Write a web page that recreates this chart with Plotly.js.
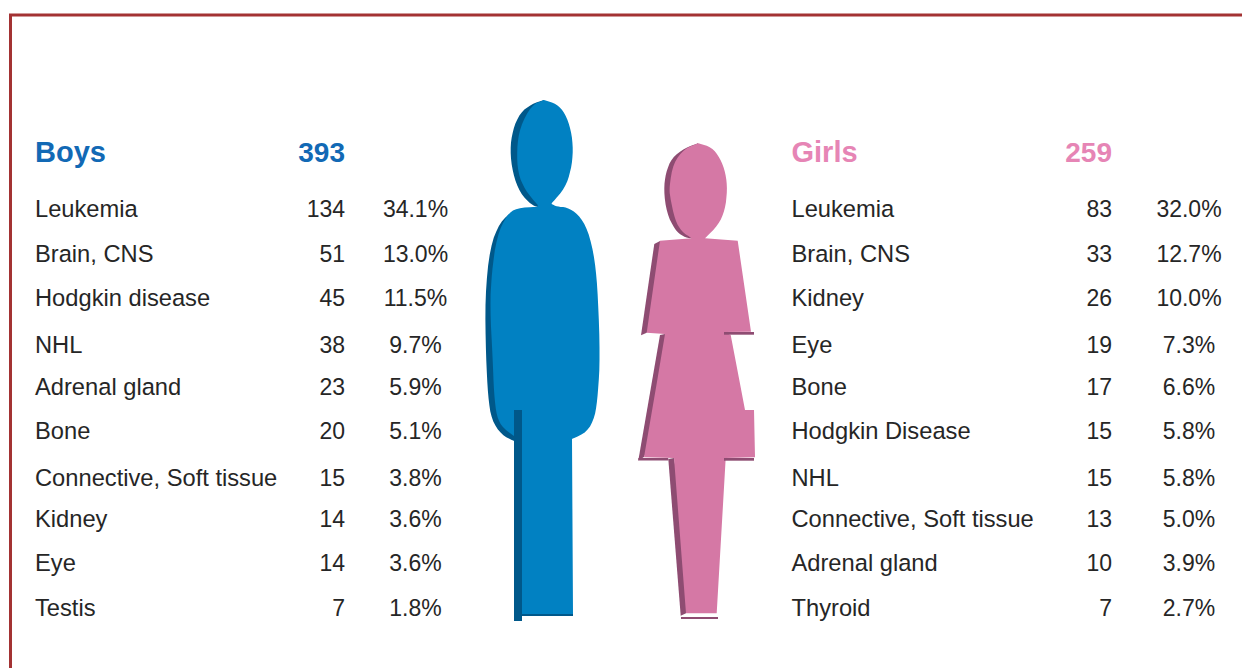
<!DOCTYPE html>
<html>
<head>
<meta charset="utf-8">
<script src="https://cdn.plot.ly/plotly-3.0.1.min.js"></script>
<style>html,body{margin:0;padding:0;background:#fff;overflow:hidden}#chart{width:1242px;height:668px}</style>
</head>
<body>
<div id="chart"></div>
<script>
// Data
const boysTitle = "Boys", boysTotal = "393";
const girlsTitle = "Girls", girlsTotal = "259";
const boysSites = ["Leukemia","Brain, CNS","Hodgkin disease","NHL","Adrenal gland","Bone","Connective, Soft tissue","Kidney","Eye","Testis"];
const boysCounts = [134,51,45,38,23,20,15,14,14,7];
const boysPct = ["34.1%","13.0%","11.5%","9.7%","5.9%","5.1%","3.8%","3.6%","3.6%","1.8%"];
const girlsSites = ["Leukemia","Brain, CNS","Kidney","Eye","Bone","Hodgkin Disease","NHL","Connective, Soft tissue","Adrenal gland","Thyroid"];
const girlsCounts = [83,33,26,19,17,15,15,13,10,7];
const girlsPct = ["32.0%","12.7%","10.0%","7.3%","6.6%","5.8%","5.8%","5.0%","3.9%","2.7%"];

// Layout of the table
const rowY = [211,256,300,347,389,433,480,521,565,610];
const headY = 155;
const FONT = "Liberation Sans, Arial, sans-serif";
const INK = "#262626", BLUE = "#1269B5", PINK = "#E685B5";
const BOY = "#0181C2", BOY_D = "#00588A", GIRL = "#D578A5", GIRL_D = "#8E4C72", FRAME = "#A33233";

function col(x, y, text, pos, color, size, bold) {
  return {x: y.map(() => x), y, text: text.map(String), mode: "text", textposition: pos,
    textfont: {family: FONT, size, color, weight: bold ? 700 : 400},
    hoverinfo: "skip", showlegend: false, cliponaxis: false, type: "scatter"};
}
const traces = [
  col(35, rowY, boysSites, "middle right", INK, 23.7),
  col(345, rowY, boysCounts, "middle left", INK, 23),
  col(415.5, rowY, boysPct, "middle center", INK, 23),
  col(791.5, rowY, girlsSites, "middle right", INK, 23.7),
  col(1112, rowY, girlsCounts, "middle left", INK, 23),
  col(1189, rowY, girlsPct, "middle center", INK, 23),
  col(35, [headY], [boysTitle], "middle right", BLUE, 29, true),
  col(345, [headY], [boysTotal], "middle left", BLUE, 28, true),
  col(791.5, [headY], [girlsTitle], "middle right", PINK, 29, true),
  col(1112, [headY], [girlsTotal], "middle left", PINK, 28, true)
];

// Silhouette illustrations: outlines are smoothed, keeping each section's end points
function soft(a, n) {
  let p = a;
  for (let k = 0; k < (n || 2); k++) {
    const q = [p[0]];
    for (let i = 0; i < p.length - 1; i++) {
      const [x0, y0] = p[i], [x1, y1] = p[i + 1];
      q.push([x0 * .75 + x1 * .25, y0 * .75 + y1 * .25], [x0 * .25 + x1 * .75, y0 * .25 + y1 * .75]);
    }
    q.push(p[p.length - 1]);
    p = q;
  }
  return p;
}
const P = a => "M" + a.map(p => p[0].toFixed(1) + "," + p[1].toFixed(1)).join("L") + "Z";

const boyHeadBack = soft([[544,100],[531.7,104],[520,113],[512.7,130],[510,150],[512.7,173],[520,193],[531.7,205],[537.7,207]]).concat([[544,190]]);
const boyBodyBack = soft([[537,207],[513,211],[500,222],[490,247],[485,297],[486,357],[488,397],[491.7,420],[501.7,435],[514,441]]).concat([[530,420],[530,210]]);
const boyFront = [].concat(
  soft([[544,100],[556.7,104],[565,113.3],[571,130],[573.3,150],[571,170],[565,188],[551.7,203.3]]),
  soft([[551.7,204],[557,206.7],[566.7,207.3],[578,214],[588,230],[595,260],[598,297],[600,357],[598,393],[595,417],[587,432],[572,439]]),
  [[573,615],[522,615],[522,436]],
  soft([[514,436],[503,428],[496.7,417],[494,393],[492.7,360],[490,307],[491.7,273],[496.7,237],[506.7,215],[516.7,208],[537.7,206.7]]),
  soft([[537.7,205],[525,190],[518,173],[516.7,150],[520,127],[531.7,105],[544,100]])
);
const boyStrip = [[514,410],[522,410],[522,621],[514,621]];
const boyFoot = [[522,614],[573,614],[573,616],[522,616]];

const girlHeadBack = soft([[698,143.3],[685,148],[671.7,158],[665.7,173],[663.7,190],[666.7,213],[675,230],[683.3,236.7],[691.7,238.7]]).concat([[700,220]]);
const girlTopBack = [[654.3,244],[660,241],[670,300],[646.7,332.7],[641,335.3]];
const girlSkirtBack = [[660,335],[665,334],[670,400],[644,457],[638.3,460.5]];
const girlSkirtEdge = [[638.3,458],[668.3,458],[668.3,460.5],[638.3,460.5]];
const girlLegBack = [[668.3,459],[674,458],[690,560],[686,613.3],[680.7,615.7]];
const girlFront = [].concat(
  soft([[698.3,143.3],[711.7,147.3],[720,158],[725.7,173],[727.3,190],[725,210],[718.3,225],[705,238.3]]),
  [[737.7,240.7],[751,331.7],[724,332],[730.7,335],[739.3,380],[745,410],[754,410],[755,457.3],[725.7,458],[716.7,613.3],[686,613.3],[674,458],[644,457.3],[657.3,380],[665,334],[646.7,332.7],[660,240.7]],
  soft([[691.7,238.3],[681.7,231.7],[675,220],[670,196.7],[669.3,186.7],[673.3,163],[685,148.3],[698.3,143.3]])
);
const girlStrip1 = [[724,332],[754,332],[754,334.7],[724,334.7]];
const girlStrip2 = [[724,458],[754,458],[754,460.7],[724,460.7]];
const girlFoot = [[681,617],[718,617],[718,619],[681,619]];

const fig = (pts, color) => ({type: "path", path: P(pts), xref: "x", yref: "y", fillcolor: color, line: {width: 0}, layer: "above"});
const shapes = [
  fig(boyHeadBack, BOY_D), fig(boyBodyBack, BOY_D), fig(boyFront, BOY), fig(boyStrip, BOY_D), fig(boyFoot, BOY_D),
  fig(girlHeadBack, GIRL_D), fig(girlTopBack, GIRL_D), fig(girlSkirtBack, GIRL_D), fig(girlLegBack, GIRL_D),
  fig(girlFront, GIRL), fig(girlSkirtEdge, GIRL_D), fig(girlStrip1, GIRL_D), fig(girlStrip2, GIRL_D), fig(girlFoot, GIRL_D),
  {type: "line", xref: "x", yref: "y", x0: 9, x1: 1242, y0: 15, y1: 15, line: {color: FRAME, width: 3}},
  {type: "line", xref: "x", yref: "y", x0: 10.5, x1: 10.5, y0: 14, y1: 668, line: {color: FRAME, width: 3}}
];

const hidden = {visible: false, fixedrange: true, showgrid: false, zeroline: false};
Plotly.newPlot("chart", traces, {
  width: 1242, height: 668, margin: {l: 0, r: 0, t: 0, b: 0},
  paper_bgcolor: "#ffffff", plot_bgcolor: "#ffffff", showlegend: false,
  xaxis: Object.assign({range: [0, 1242]}, hidden),
  yaxis: Object.assign({range: [668, 0]}, hidden),
  shapes
}, {displayModeBar: false, staticPlot: true});
</script>
</body>
</html>
